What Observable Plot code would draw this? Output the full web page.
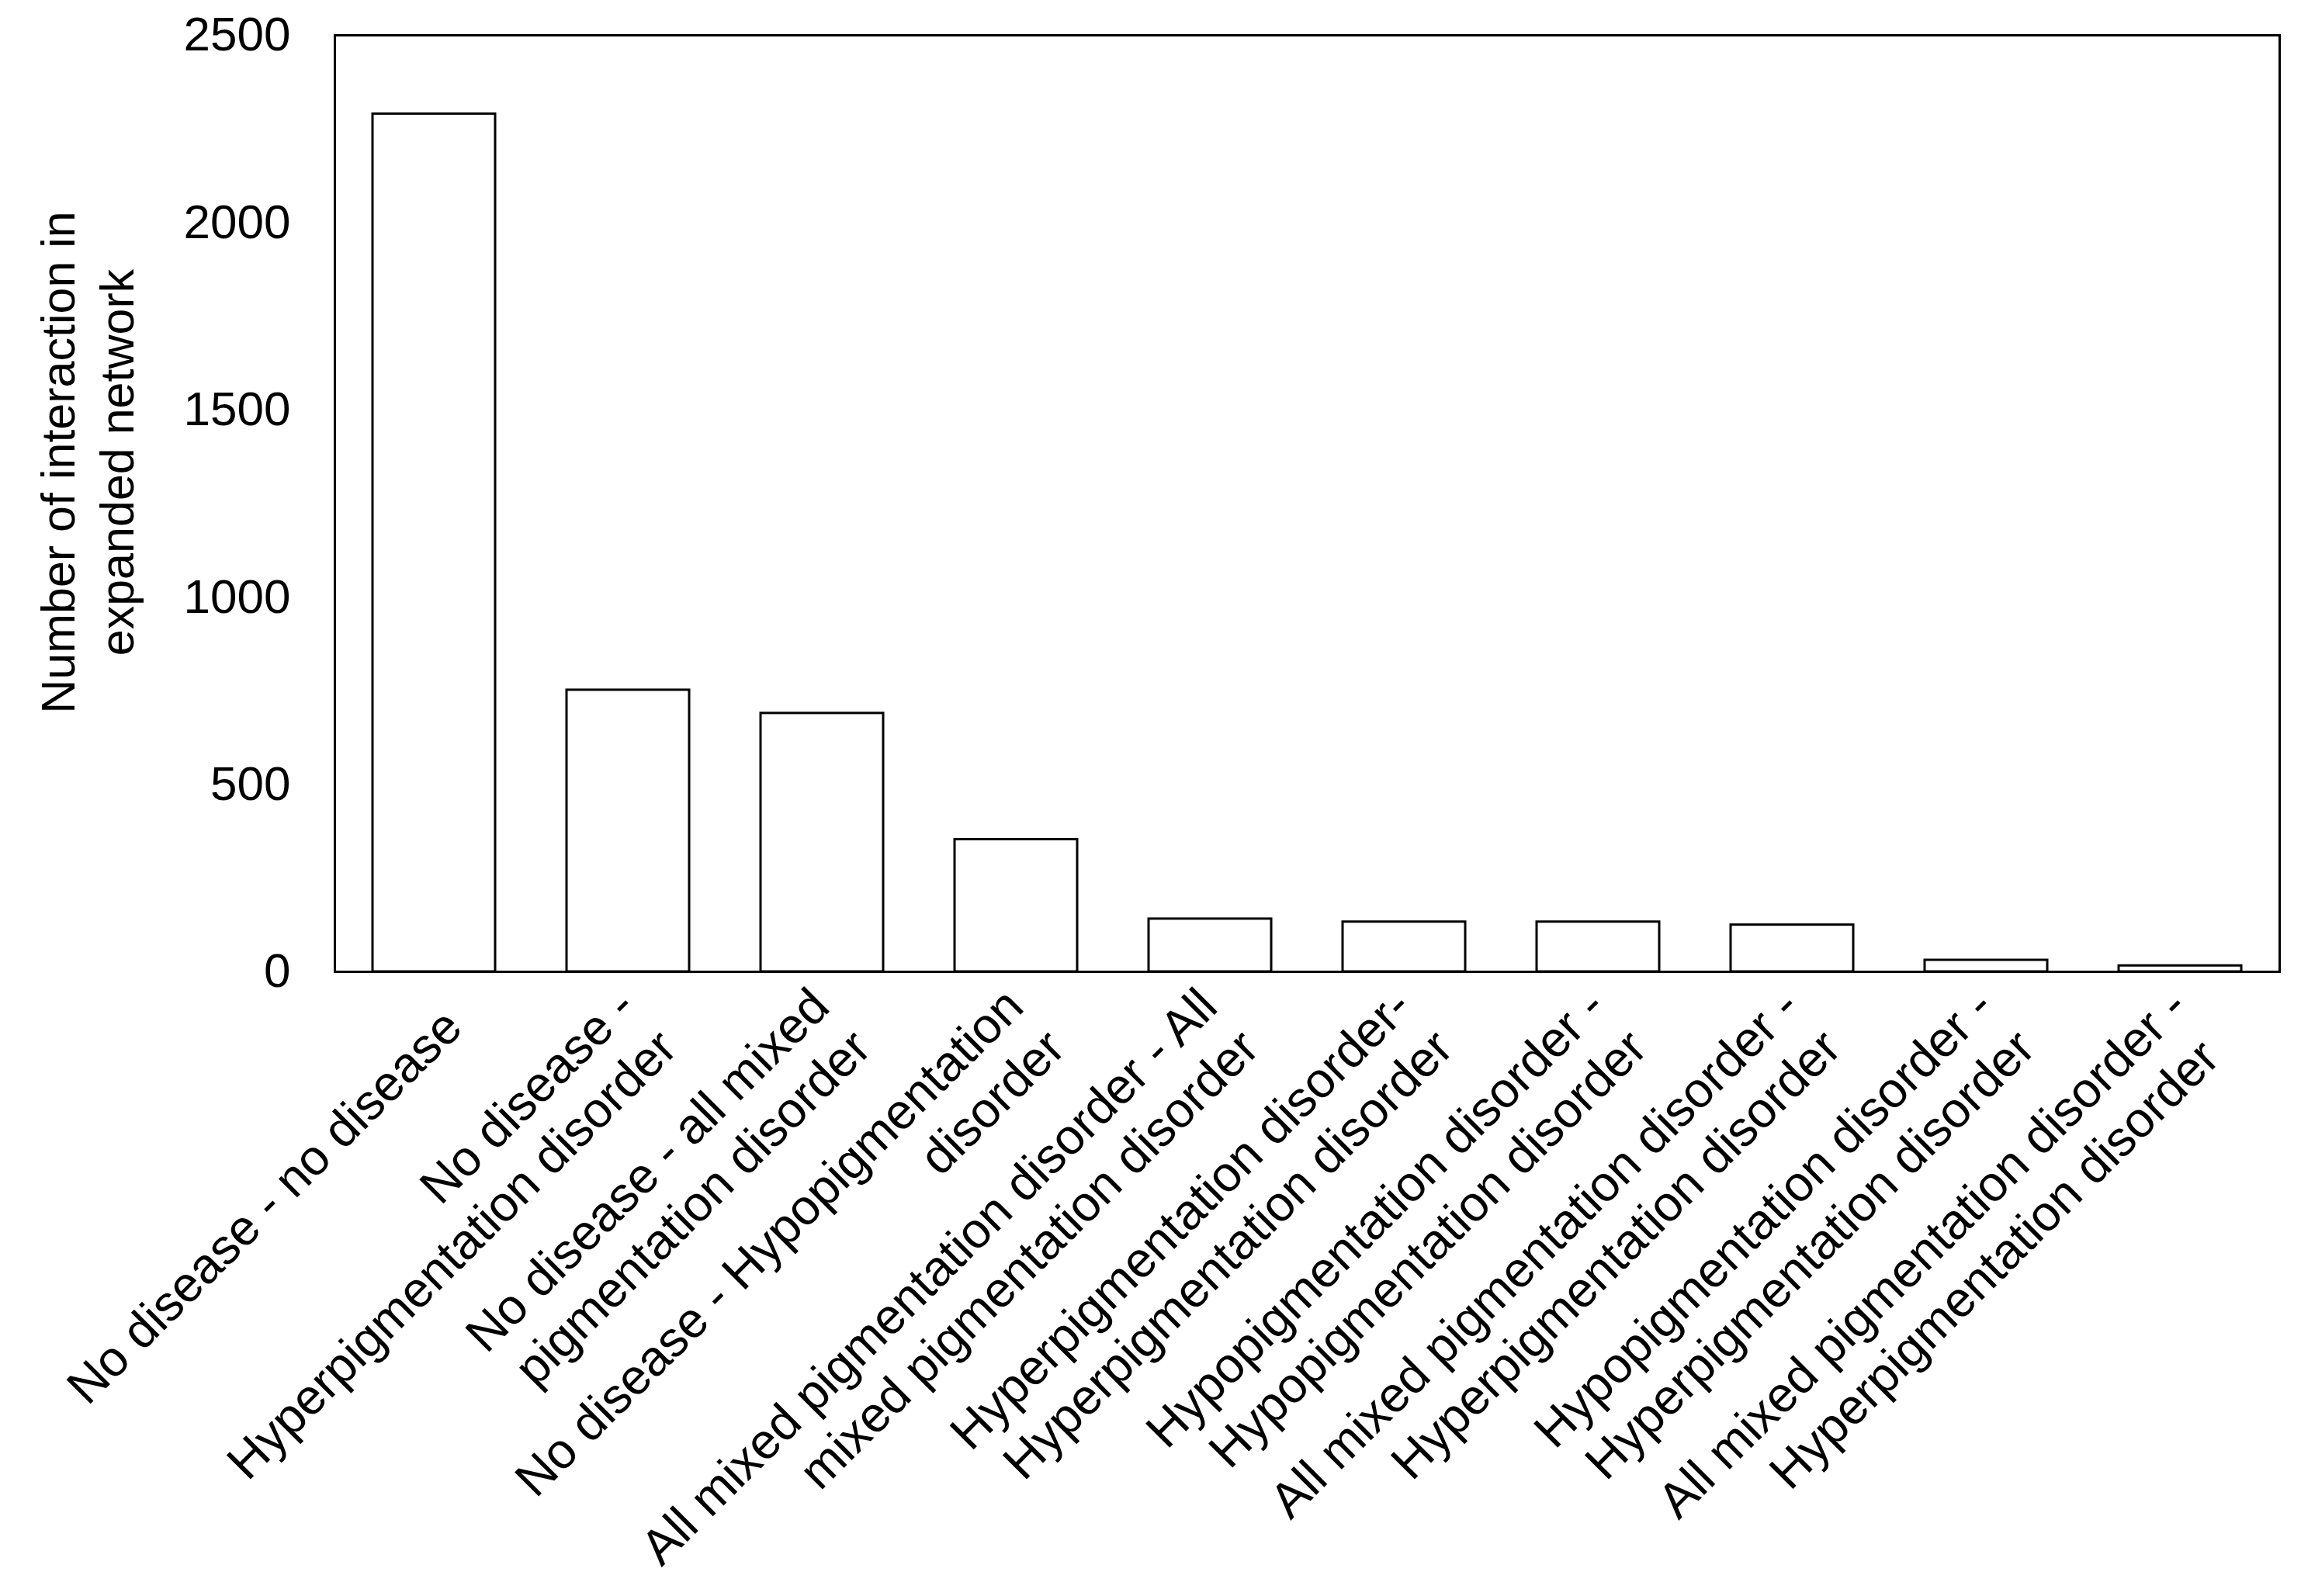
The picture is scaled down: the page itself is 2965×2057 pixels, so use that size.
<!DOCTYPE html>
<html>
<head>
<meta charset="utf-8">
<script src="https://cdn.jsdelivr.net/npm/d3@7"></script>
<script src="https://cdn.jsdelivr.net/npm/@observablehq/plot@0.6"></script>
<style>
  html, body { margin: 0; padding: 0; background: #fff; }
</style>
</head>
<body>
<div id="chart"></div>
<script>
const categories = [
  "No disease - no disease",
  "No disease -\nHyperpigmentation disorder",
  "No disease - all mixed\npigmentation disorder",
  "No disease - Hypopigmentation\ndisorder",
  "All mixed pigmentation disorder - All\nmixed pigmentation disorder",
  "Hyperpigmentation disorder-\nHyperpigmentation disorder",
  "Hypopigmentation disorder -\nHypopigmentation disorder",
  "All mixed pigmentation disorder -\nHyperpigmentation disorder",
  "Hypopigmentation disorder -\nHyperpigmentation disorder",
  "All mixed pigmentation disorder -\nHyperpigmentation disorder "
];
const values = [2290, 752, 690, 353, 141, 133, 133, 125, 31, 16];
const yTicks = [0, 500, 1000, 1500, 2000, 2500];
const yTitle = "Number of interaction in\nexpanded network";

const data = categories.map((c, i) => ({category: c, value: values[i]}));

const chart = Plot.plot({
  width: 2965,
  height: 2057,
  marginLeft: 431,
  marginRight: 28,
  marginTop: 45,
  marginBottom: 805,
  style: {fontFamily: "'Liberation Sans', Arial, sans-serif", fontSize: "61px", color: "#000", background: "#fff"},
  x: {domain: categories, paddingInner: 0.37, paddingOuter: 0.18, label: null},
  y: {domain: [0, 2500], label: null},
  marks: [
    Plot.barY(data, {x: "category", y: "value", fill: "white", stroke: "black", strokeWidth: 3}),
    Plot.frame({stroke: "black", strokeWidth: 3}),
    Plot.axisY({
      ticks: yTicks, tickSize: 0, tickPadding: 57, tickFormat: d3.format("d"),
      fontSize: 62, label: null
    }),
    Plot.axisX({
      tickSize: 0, tickRotate: -45, tickPadding: 58, dx: 22, fontSize: 64, lineHeight: 1.18, label: null
    }),
    Plot.text([yTitle], {
      frameAnchor: "left", rotate: -90, textAnchor: "middle", lineAnchor: "top",
      lineHeight: 1.246, fontSize: 61, fill: "black", dx: -389, dy: -53
    })
  ]
});
document.getElementById("chart").appendChild(chart);
</script>
</body>
</html>
